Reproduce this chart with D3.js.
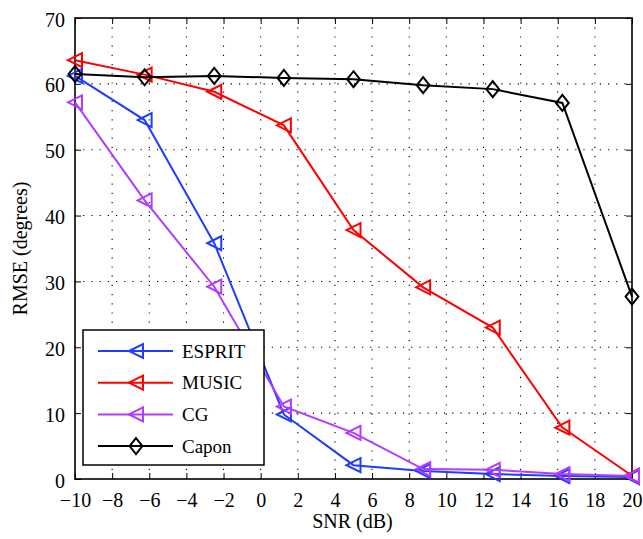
<!DOCTYPE html>
<html><head><meta charset="utf-8">
<script src="https://cdn.jsdelivr.net/npm/d3@7"></script>
<style>body{margin:0;background:#fff}svg{display:block}</style>
</head><body>
<script>
const snr = [-10, -6.25, -2.5, 1.25, 5, 8.75, 12.5, 16.25, 20];
const esprit = [61.2, 54.5, 35.8, 9.8, 2.1, 1.2, 0.75, 0.45, 0.3];
const music = [63.6, 61.4, 58.8, 53.7, 37.8, 29.1, 23.0, 7.8, 0.5];
const cg = [57.2, 42.3, 29.2, 11.0, 7.0, 1.5, 1.4, 0.75, 0.45];
const capon = [61.5, 61.0, 61.2, 60.9, 60.7, 59.8, 59.2, 57.1, 27.7];
const seriesNames = ["ESPRIT", "MUSIC", "CG", "Capon"];
const xTicks = [-10,-8,-6,-4,-2,0,2,4,6,8,10,12,14,16,18,20];
const yTicks = [0,10,20,30,40,50,60,70];

const FONT = "Liberation Serif";
const W = 643, H = 539;
const L = 75, R = 632, T = 18, B = 479;
const svg = d3.select("body").append("svg").attr("width", W).attr("height", H).attr("font-family", FONT);
const x = d3.scaleLinear().domain([-10, 20]).range([L, R]);
const y = d3.scaleLinear().domain([0, 70]).range([B, T]);

// grid
const g = svg.append("g");
g.selectAll(".vg").data(xTicks.slice(1, -1)).enter().append("line")
  .attr("x1", d => x(d)).attr("x2", d => x(d)).attr("y1", T).attr("y2", B)
  .attr("stroke", "#000").attr("stroke-width", 1.1).attr("stroke-dasharray", "1.2,8");
g.selectAll(".hg").data(yTicks.slice(1, -1)).enter().append("line")
  .attr("y1", d => y(d)).attr("y2", d => y(d)).attr("x1", L).attr("x2", R)
  .attr("stroke", "#000").attr("stroke-width", 1.1).attr("stroke-dasharray", "1.2,7");

// axes
const fmt = d => d < 0 ? "\u2212" + Math.abs(d) : String(d);
const xa = svg.append("g").attr("transform", `translate(0,${B})`)
  .call(d3.axisBottom(x).tickValues(xTicks).tickSize(-6).tickPadding(13).tickFormat(fmt));
const xt = svg.append("g").attr("transform", `translate(0,${T})`)
  .call(d3.axisTop(x).tickValues(xTicks).tickSize(-6).tickFormat(""));
const ya = svg.append("g").attr("transform", `translate(${L},0)`)
  .call(d3.axisLeft(y).tickValues(yTicks).tickSize(-6).tickPadding(10).tickFormat(fmt));
const yr = svg.append("g").attr("transform", `translate(${R},0)`)
  .call(d3.axisRight(y).tickValues(yTicks).tickSize(-6).tickFormat(""));
[xa, xt, ya, yr].forEach(a => {
  a.attr("font-family", FONT).attr("font-size", 20);
  a.select(".domain").remove();
  a.selectAll("line").attr("stroke", "#000").attr("stroke-width", 1);
  a.selectAll("text").attr("font-family", FONT).attr("font-size", 20).attr("fill", "#000");
});
xa.selectAll("text").attr("dy", "0.75em");
ya.selectAll("text").attr("dy", "0.4em");
svg.append("rect").attr("x", L).attr("y", T).attr("width", R - L).attr("height", B - T)
  .attr("fill", "none").attr("stroke", "#000").attr("stroke-width", 1.6);

// labels
svg.append("text").attr("x", (L + R) / 2 - 1).attr("y", 528).attr("text-anchor", "middle")
  .attr("font-family", FONT).attr("font-size", 20).text("SNR (dB)");
svg.append("text").attr("transform", `translate(27,${(T + B) / 2}) rotate(-90)`).attr("text-anchor", "middle")
  .attr("font-family", FONT).attr("font-size", 20).text("RMSE (degrees)");

// series
const data = [esprit, music, cg, capon];
const colors = ["#1f3cff", "#ff0000", "#b13cff", "#000000"];
const markers = ["tri", "tri", "tri", "dia"];
const line = d3.line().x((d, i) => x(snr[i])).y(d => y(d));
function marker(sel, type, cx, cy, color) {
  if (type === "tri") {
    const s = 7;
    sel.append("path").attr("d", `M${cx - s},${cy} L${cx + s},${cy - s} L${cx + s},${cy + s} Z`)
      .attr("fill", "none").attr("stroke", color).attr("stroke-width", 2);
  } else {
    const s = 8;
    sel.append("path").attr("d", `M${cx},${cy - s} L${cx + s * 0.8},${cy} L${cx},${cy + s} L${cx - s * 0.8},${cy} Z`)
      .attr("fill", "none").attr("stroke", color).attr("stroke-width", 2);
  }
}
const plot = svg.append("g");
data.forEach((vals, k) => {
  plot.append("path").datum(vals).attr("d", line).attr("fill", "none")
    .attr("stroke", colors[k]).attr("stroke-width", 2);
  vals.forEach((v, i) => marker(plot, markers[k], x(snr[i]), y(v), colors[k]));
});

// legend
const lg = svg.append("g");
lg.append("rect").attr("x", 83).attr("y", 330).attr("width", 181).attr("height", 135)
  .attr("fill", "#fff").attr("stroke", "#000").attr("stroke-width", 1.5);
seriesNames.forEach((name, k) => {
  const cy = 351 + k * 31.7;
  lg.append("line").attr("x1", 98).attr("x2", 173).attr("y1", cy).attr("y2", cy)
    .attr("stroke", colors[k]).attr("stroke-width", 2);
  marker(lg, markers[k], 136, cy, colors[k]);
  lg.append("text").attr("x", 182).attr("y", cy).attr("dy", "0.35em")
    .attr("font-family", FONT).attr("font-size", 19).text(name);
});
</script>
</body></html>
